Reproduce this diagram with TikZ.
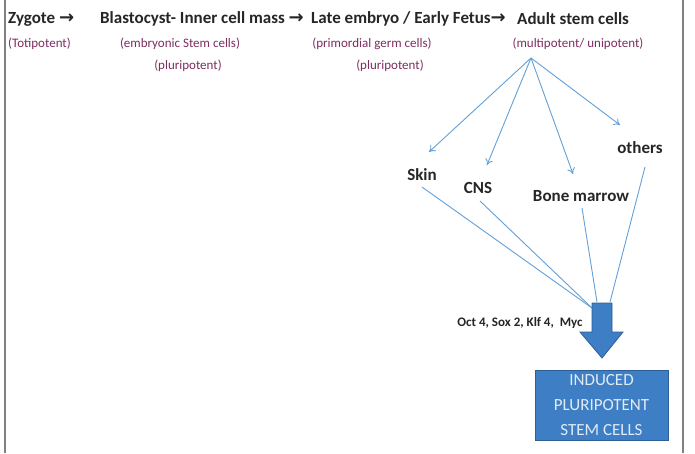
\documentclass[tikz,border=0pt]{standalone}
\usepackage{fontspec}
\setmainfont{Carlito}
\newfontfamily\arrowfont{DejaVu Sans}
\usetikzlibrary{arrows.meta}
\definecolor{sub}{RGB}{125,45,95}
\definecolor{lineblue}{RGB}{100,160,215}
\definecolor{boxblue}{RGB}{61,126,197}
\definecolor{boxedge}{RGB}{45,95,150}
\definecolor{boxtext}{RGB}{225,235,245}
\definecolor{frame}{RGB}{128,128,128}
\newcommand{\tarrow}{{\arrowfont\bfseries\fontsize{18}{20}\selectfont →}}
\tikzset{
  title/.style={font=\bfseries\fontsize{17}{20}\selectfont, text=black!85, inner sep=0pt, anchor=west},
  subt/.style={font=\fontsize{13}{15}\selectfont, text=sub, inner sep=0pt},
  organ/.style={font=\bfseries\fontsize{17}{19}\selectfont, text=black!85, inner sep=0pt},
  fan/.style={draw=lineblue, line width=0.9pt, -{To[length=6pt,width=8pt]}},
  conv/.style={draw=lineblue, line width=0.9pt},
}
\begin{document}
\begin{tikzpicture}[x=1pt,y=-1pt]
\useasboundingbox (0,0) rectangle (695,453);
\fill[white] (0,0) rectangle (695,453);
\draw[frame, line width=2pt] (5,0) -- (5,453);
\draw[frame, line width=2pt] (683,0) -- (683,453);

\node[title] (t1) at (8,19) {Zygote \tarrow};
\node[title] (t2) at (100,19) {Blastocyst- Inner cell mass \tarrow};
\node[title] (t3) at (311,19) {Late embryo / Early Fetus\tarrow};
\node[title] (t4) at (517,19) {Adult stem cells};

\node[subt, anchor=west] (s1) at (8,44) {(Totipotent)};
\node[subt] (s2) at (180,44) {(embryonic Stem cells)};
\node[subt] (s3) at (188,66) {(pluripotent)};
\node[subt] (s4) at (372,44) {(primordial germ cells)};
\node[subt] (s5) at (390,66) {(pluripotent)};
\node[subt] (s6) at (578,44) {(multipotent/ unipotent)};

\coordinate (o) at (531,58);
\coordinate (a1) at (429,152);
\coordinate (a2) at (487,165);
\coordinate (a3) at (573,174);
\coordinate (a4) at (620,125);
\draw[fan] (o) -- (a1);
\draw[fan] (o) -- (a2);
\draw[fan] (o) -- (a3);
\draw[fan] (o) -- (a4);

\node[organ] (skin) at (422,175) {Skin};
\node[organ] (cns) at (478,188) {CNS};
\node[organ] (bm) at (581,196) {Bone marrow};
\node[organ] (oth) at (640,148) {others};

\coordinate (c1) at (592,308);
\coordinate (c2) at (597,302);
\coordinate (c3) at (610,302);
\draw[conv] (422,187) -- (c1);
\draw[conv] (480,201) -- (c1);
\draw[conv] (582,208) -- (c2);
\draw[conv] (645,167) -- (c3);

\draw[fill=boxblue, draw=boxedge, line width=0.8pt]
  (592,303) -- (612,303) -- (612,332) -- (623,332) -- (602,358) -- (580,332) -- (592,332) -- cycle;

\node[font=\bfseries\fontsize{13}{15}\selectfont, text=black!85, inner sep=0pt] (tf) at (520,323) {Oct 4, Sox 2, Klf 4,\ \ Myc};

\node[draw=boxedge, fill=boxblue, line width=0.8pt, minimum width=133pt, minimum height=70pt, inner sep=0pt,
  font=\fontsize{17}{25}\selectfont, text=boxtext, align=center] (ips) at (601.5,405)
  {INDUCED\\PLURIPOTENT\\STEM CELLS};
\end{tikzpicture}
\end{document}
